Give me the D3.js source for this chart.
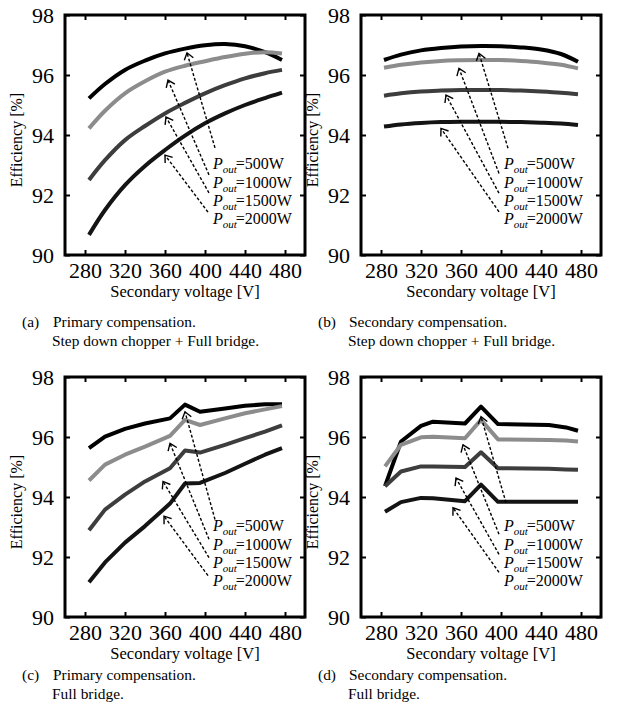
<!DOCTYPE html>
<html><head><meta charset="utf-8">
<script src="https://cdn.jsdelivr.net/npm/d3@7"></script>
<style>
body{margin:0;background:#fff}
svg{display:block}
svg text{font-family:"Times New Roman","Liberation Serif",Tinos,Times,serif !important;fill:#000}
</style>
</head><body>
<svg id="chart" width="636" height="711"></svg>
<script>
// ---------- data ----------
const powerLabels = ["500W", "1000W", "1500W", "2000W"];
const xTicks = [280, 320, 360, 400, 440, 480];
const yTicks = [90, 92, 94, 96, 98];

// (a) Primary compensation, step down chopper + full bridge
const voltA = [284, 300, 320, 340, 360, 380, 400, 420, 440, 460, 477];
const effA500  = [95.22, 95.70, 96.17, 96.48, 96.72, 96.88, 96.99, 97.03, 96.96, 96.76, 96.50];
const effA1000 = [94.22, 94.81, 95.39, 95.79, 96.11, 96.31, 96.46, 96.60, 96.71, 96.76, 96.72];
const effA1500 = [92.50, 93.16, 93.83, 94.30, 94.72, 95.07, 95.39, 95.66, 95.89, 96.06, 96.17];
const effA2000 = [90.67, 91.50, 92.33, 92.97, 93.50, 93.98, 94.39, 94.72, 95.00, 95.23, 95.41];

// (b) Secondary compensation, step down chopper + full bridge
const voltB = [283, 300, 320, 340, 360, 380, 400, 420, 440, 460, 477];
const effB500  = [96.50, 96.68, 96.82, 96.90, 96.95, 96.97, 96.96, 96.92, 96.85, 96.70, 96.44];
const effB1000 = [96.24, 96.34, 96.42, 96.47, 96.49, 96.50, 96.50, 96.47, 96.42, 96.34, 96.22];
const effB1500 = [95.31, 95.39, 95.45, 95.48, 95.50, 95.50, 95.50, 95.48, 95.45, 95.41, 95.36];
const effB2000 = [94.28, 94.35, 94.40, 94.43, 94.44, 94.44, 94.44, 94.43, 94.41, 94.38, 94.33];

// (c) Primary compensation, full bridge
const voltC = [284, 300, 320, 340, 365, 380, 395, 420, 440, 460, 477];
const effC500  = [95.63, 96.01, 96.27, 96.45, 96.62, 97.08, 96.84, 96.95, 97.04, 97.09, 97.09];
const effC1000 = [94.55, 95.08, 95.41, 95.68, 96.04, 96.57, 96.40, 96.62, 96.79, 96.92, 97.03];
const effC1500 = [92.89, 93.58, 94.08, 94.52, 94.96, 95.55, 95.48, 95.74, 95.96, 96.18, 96.39];
const effC2000 = [91.16, 91.82, 92.48, 93.03, 93.78, 94.45, 94.47, 94.80, 95.11, 95.41, 95.63];

// (d) Secondary compensation, full bridge
const voltD = [284, 300, 320, 332, 364, 380, 397, 448, 465, 477];
const effD500  = [94.36, 95.85, 96.37, 96.51, 96.45, 97.01, 96.43, 96.40, 96.32, 96.21];
const effD1000 = [95.02, 95.74, 95.99, 96.01, 95.96, 96.57, 95.92, 95.90, 95.88, 95.85];
const effD1500 = [94.36, 94.85, 95.02, 95.02, 95.00, 95.49, 94.96, 94.94, 94.92, 94.91];
const effD2000 = [93.51, 93.83, 93.97, 93.96, 93.86, 94.41, 93.84, 93.84, 93.84, 93.84];

// annotation arrows (data coords: fromV, fromE, toV, toE)
const arrowsA = [[410, 93.57, 382, 96.74], [404, 92.67, 363, 95.83], [404, 92.07, 361, 94.60], [403, 91.43, 360, 93.33]];
const arrowsB = [[407, 93.56, 378, 96.72], [398, 92.72, 358, 96.22], [398, 92.06, 345, 95.33], [398, 91.44, 340, 94.22]];
const arrowsC = [[410, 93.25, 380, 96.84], [404, 92.59, 365, 95.79], [404, 91.98, 358, 94.52], [403, 91.38, 359, 93.36]];
const arrowsD = [[405, 93.81, 380, 96.68], [398, 92.76, 362, 95.74], [398, 92.09, 355, 94.63], [398, 91.49, 352, 93.64]];
const labelBaseE = [92.88, 92.25, 91.65, 91.05];

const captionsA = ["(a)", "Primary compensation.", "Step down chopper + Full bridge."];
const captionsB = ["(b)", "Secondary compensation.", "Step down chopper + Full bridge."];
const captionsC = ["(c)", "Primary compensation.", "Full bridge."];
const captionsD = ["(d)", "Secondary compensation.", "Full bridge."];

// ---------- drawing ----------
const FONT = "'Times New Roman', 'Liberation Serif', Tinos, serif";
const svg = d3.select("#chart");
const W = 240, H = 240;
const colors = ["#000000", "#8c8c8c", "#3d3d3d", "#141414"];

const panels = [
  {x0: 65,  y0: 15,  volt: voltA, eff: [effA500, effA1000, effA1500, effA2000], arrows: arrowsA, labelV: 408, curve: d3.curveCatmullRom, cap: captionsA, capY: 327},
  {x0: 361, y0: 15,  volt: voltB, eff: [effB500, effB1000, effB1500, effB2000], arrows: arrowsB, labelV: 403, curve: d3.curveCatmullRom, cap: captionsB, capY: 327},
  {x0: 65,  y0: 377, volt: voltC, eff: [effC500, effC1000, effC1500, effC2000], arrows: arrowsC, labelV: 408, curve: d3.curveLinear, cap: captionsC, capY: 680},
  {x0: 361, y0: 377, volt: voltD, eff: [effD500, effD1000, effD1500, effD2000], arrows: arrowsD, labelV: 403, curve: d3.curveLinear, cap: captionsD, capY: 680}
];

panels.forEach(p => {
  const g = svg.append("g").attr("transform", `translate(${p.x0},${p.y0})`).attr("font-family", FONT);
  const x = d3.scaleLinear().domain([260, 500]).range([0, W]);
  const y = d3.scaleLinear().domain([90, 98]).range([H, 0]);

  // axes
  const ax = g.append("g").attr("transform", `translate(0,${H})`)
    .call(d3.axisBottom(x).tickValues(xTicks).tickSize(-5).tickPadding(7).tickFormat(d3.format("d")));
  const ay = g.append("g")
    .call(d3.axisLeft(y).tickValues(yTicks).tickSize(-5).tickPadding(11).tickFormat(d3.format("d")));
  const at = g.append("g").call(d3.axisTop(x).tickValues(xTicks).tickSize(-5).tickFormat(""));
  const ar = g.append("g").attr("transform", `translate(${W},0)`)
    .call(d3.axisRight(y).tickValues(yTicks).tickSize(-5).tickFormat(""));
  [ax, ay, at, ar].forEach(a => {
    a.attr("font-family", FONT).attr("font-size", 22);
    a.select(".domain").remove();
    a.selectAll(".tick line").attr("stroke", "#000").attr("stroke-width", 2);
    a.selectAll(".tick text").attr("fill", "#000");
  });

  // series lines
  const line = d3.line().x(d => x(d[0])).y(d => y(d[1])).curve(p.curve);
  p.eff.forEach((vals, i) => {
    const pts = p.volt.map((v, k) => [v, vals[k]]);
    g.append("path").datum(pts).attr("d", line)
      .attr("fill", "none").attr("stroke", colors[i]).attr("stroke-width", 4)
      .attr("stroke-linejoin", "round").attr("stroke-linecap", "butt");
  });

  // arrows
  p.arrows.forEach(a => {
    const x1 = x(a[0]), y1 = y(a[1]), x2 = x(a[2]), y2 = y(a[3]);
    g.append("line").attr("x1", x1).attr("y1", y1).attr("x2", x2).attr("y2", y2)
      .attr("stroke", "#000").attr("stroke-width", 1.4).attr("stroke-dasharray", "3,2");
    const ang = Math.atan2(y2 - y1, x2 - x1), L = 8, h = Math.PI / 5;
    const p1 = [x2 - L * Math.cos(ang - h), y2 - L * Math.sin(ang - h)];
    const p2 = [x2 - L * Math.cos(ang + h), y2 - L * Math.sin(ang + h)];
    g.append("path").attr("d", `M${p1[0]},${p1[1]}L${x2},${y2}L${p2[0]},${p2[1]}`)
      .attr("fill", "none").attr("stroke", "#000").attr("stroke-width", 1.4);
  });

  // labels
  powerLabels.forEach((lab, i) => {
    const t = g.append("text").attr("x", x(p.labelV)).attr("y", y(labelBaseE[i])).attr("font-size", 16);
    t.append("tspan").attr("font-style", "italic").text("P");
    t.append("tspan").attr("font-style", "italic").attr("font-size", 11).attr("dy", 4).text("out");
    t.append("tspan").attr("dy", -4).attr("dx", -1).text("=" + lab);
  });

  // frame
  g.append("rect").attr("x", 0).attr("y", 0).attr("width", W).attr("height", H)
    .attr("fill", "none").attr("stroke", "#000").attr("stroke-width", 3);

  // axis titles
  g.append("text").attr("x", W / 2).attr("y", H + 42).attr("text-anchor", "middle")
    .attr("font-size", 16.5).text("Secondary voltage [V]");
  g.append("text").attr("transform", `translate(-43,${H / 2 + 5}) rotate(-90)`).attr("text-anchor", "middle")
    .attr("font-size", 16).text("Efficiency [%]");

  // captions
  const cx = p.x0 - 43;
  const c = svg.append("g").attr("font-family", FONT).attr("font-size", 15.4);
  c.append("text").attr("x", cx).attr("y", p.capY).text(p.cap[0]);
  c.append("text").attr("x", cx + 31).attr("y", p.capY).text(p.cap[1]);
  c.append("text").attr("x", cx + 30).attr("y", p.capY + 19).text(p.cap[2]);
});
</script>
</body></html>
